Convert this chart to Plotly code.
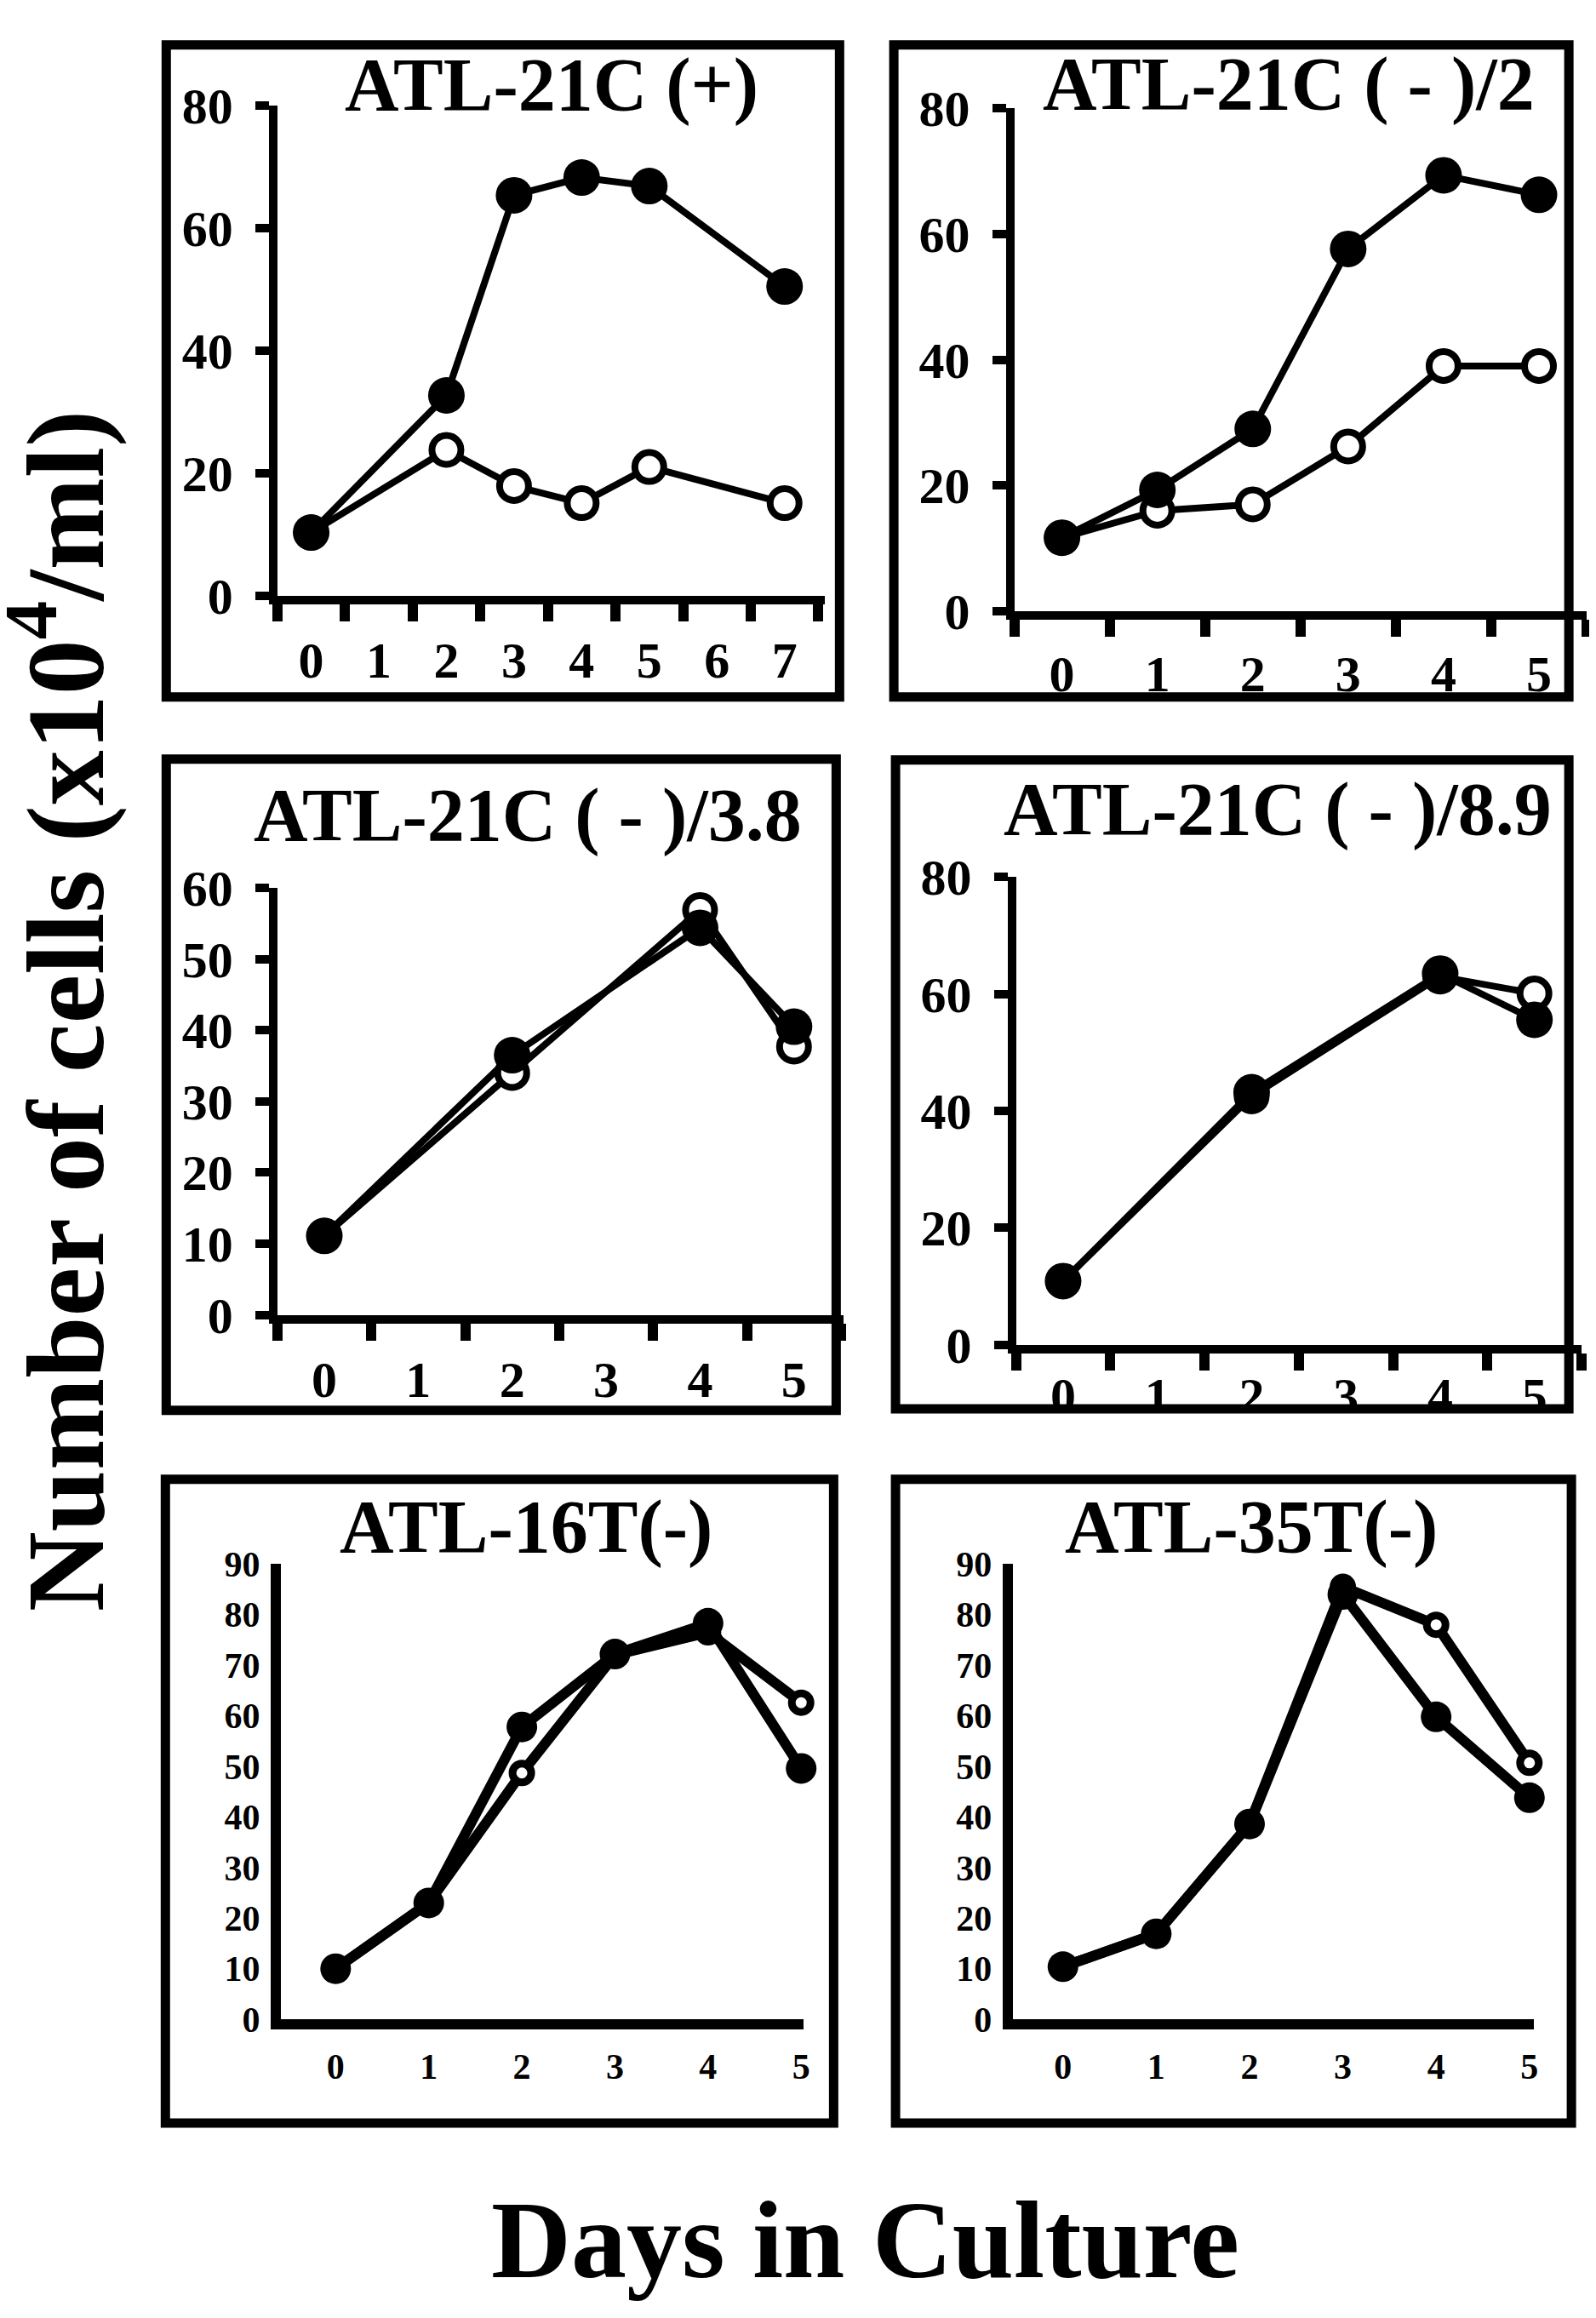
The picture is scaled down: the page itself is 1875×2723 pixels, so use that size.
import plotly.graph_objects as go

W, H = 1875, 2723

# ---------------- data ----------------
titles = ["ATL-21C (+)", "ATL-21C ( - )/2", "ATL-21C ( - )/3.8",
          "ATL-21C ( - )/8.9", "ATL-16T(-)", "ATL-35T(-)"]

days_1 = [0, 2, 3, 4, 5, 7]
filled_1 = [10.3, 32.7, 65.4, 68.3, 66.9, 50.5]
open_1 = [10.3, 23.8, 17.9, 15.1, 21.0, 15.1]
xlabels_1 = [0, 1, 2, 3, 4, 5, 6, 7]

days_2 = [0, 1, 2, 3, 4, 5]
filled_2 = [11.7, 19.3, 29.0, 57.6, 69.3, 66.2]
open_2 = [11.7, 16.0, 17.0, 26.2, 39.0, 39.0]

days_3 = [0, 2, 4, 5]
filled_3 = [11.1, 36.5, 54.4, 40.5]
open_3 = [11.1, 34.0, 56.9, 37.7]

days_4 = [0, 2, 4, 5]
filled_4 = [10.9, 43.2, 63.5, 55.6]
open_4 = [10.9, 42.5, 63.0, 60.1]

days_5 = [0, 1, 2, 3, 4, 5]
filled_5 = [10.0, 23.0, 57.8, 72.2, 78.3, 49.6]
open_5 = [10.0, 23.0, 48.7, 72.0, 76.5, 62.6]

days_6 = [0, 1, 2, 3, 4, 5]
filled_6 = [10.4, 16.9, 38.6, 84.0, 59.8, 43.8]
open_6 = [10.4, 16.9, 38.6, 85.5, 78.0, 50.7]

xlabels_0to5 = [0, 1, 2, 3, 4, 5]
yticks_80 = [0, 20, 40, 60, 80]
yticks_60 = [0, 10, 20, 30, 40, 50, 60]
yticks_90 = [0, 10, 20, 30, 40, 50, 60, 70, 80, 90]

ytitle = "Number of cells (x10<sup>4</sup>/ml)"
xtitle = "Days in Culture"

# ---------------- geometry / style (pixels) ----------------
FONT = "Liberation Serif, Times New Roman, serif"

panels = [
    dict(days=days_1, filled=filled_1, open=open_1, xlabels=xlabels_1, yticks=yticks_80,
         frame=(188, 13, 982, 798), xpx=(319, 965), xr=(-0.5, 7.6), ypx=(676, 86.5), yr=(0, 80),
         title=(642, 61), big=True, xstand=14),
    dict(days=days_2, filled=filled_2, open=open_2, xlabels=xlabels_0to5, yticks=yticks_80,
         frame=(1046, 13, 1842, 798), xpx=(1188, 1863), xr=(-0.5, 5.5), ypx=(695, 89), yr=(0, 80),
         title=(1512, 60), big=True, xstand=12),
    dict(days=days_3, filled=filled_3, open=open_3, xlabels=xlabels_0to5, yticks=yticks_60,
         frame=(188, 873, 978, 1657), xpx=(319, 987), xr=(-0.5, 5.53), ypx=(1542, 1028), yr=(0, 60),
         title=(614, 940), big=True, xstand=14),
    dict(days=days_4, filled=filled_4, open=open_4, xlabels=xlabels_0to5, yticks=yticks_80,
         frame=(1048, 874, 1842, 1655), xpx=(1190, 1857), xr=(-0.5, 5.5), ypx=(1578, 1015), yr=(0, 80),
         title=(1499, 933), big=True, xstand=-2),
    dict(days=days_5, filled=filled_5, open=open_5, xlabels=xlabels_0to5, yticks=yticks_90,
         frame=(187, 1740, 975, 2515), xpx=(323, 940), xr=(-0.59, 5.03), ypx=(2390, 1842), yr=(0, 90),
         title=(612, 1797), big=False, xstand=8),
    dict(days=days_6, filled=filled_6, open=open_6, xlabels=xlabels_0to5, yticks=yticks_90,
         frame=(1048, 1740, 1845, 2515), xpx=(1186, 1801), xr=(-0.54, 5.05), ypx=(2390, 1842), yr=(0, 90),
         title=(1467, 1797), big=False, xstand=8),
]


def px(x):
    return x / W


def py(y):
    return 1 - y / H


fig = go.Figure()
layout = dict(width=W, height=H, margin=dict(l=0, r=0, t=0, b=0),
              paper_bgcolor="white", plot_bgcolor="rgba(0,0,0,0)",
              showlegend=False, font=dict(family=FONT, color="black"))
shapes = []
annotations = []

for i, p in enumerate(panels):
    n = i + 1
    xa = "x" if n == 1 else f"x{n}"
    ya = "y" if n == 1 else f"y{n}"
    big = p["big"]
    lw = 8 if big else 12
    fsize, osize, oline = (43, 34, 8) if big else (36, 22, 9)

    fig.add_trace(go.Scatter(x=p["days"], y=p["open"], xaxis=xa, yaxis=ya, mode="lines+markers",
                             line=dict(color="black", width=lw),
                             marker=dict(symbol="circle", size=osize, color="white",
                                         line=dict(color="black", width=oline)),
                             cliponaxis=False))
    fig.add_trace(go.Scatter(x=p["days"], y=p["filled"], xaxis=xa, yaxis=ya, mode="lines+markers",
                             line=dict(color="black", width=lw),
                             marker=dict(symbol="circle", size=fsize, color="black",
                                         line=dict(width=0)),
                             cliponaxis=False))

    tick_fs = 60 if big else 42
    axlw = 10 if big else 12
    xkey = "xaxis" if n == 1 else f"xaxis{n}"
    ykey = "yaxis" if n == 1 else f"yaxis{n}"
    xaxis = dict(domain=[px(p["xpx"][0]), px(p["xpx"][1])], range=list(p["xr"]), anchor=ya,
                 showgrid=False, zeroline=False, showline=True, linecolor="black", linewidth=axlw,
                 tickmode="array", tickvals=p["xlabels"], ticktext=[str(v) for v in p["xlabels"]],
                 ticks="", ticklabelstandoff=p["xstand"],
                 tickfont=dict(family=FONT, size=tick_fs, color="black", weight="bold"),
                 fixedrange=True)
    if big:
        xaxis["minor"] = dict(tickmode="linear", tick0=-0.5, dtick=1, ticks="outside",
                              ticklen=20, tickwidth=12, tickcolor="black", showgrid=False)
    yaxis = dict(domain=[py(p["ypx"][0]), py(p["ypx"][1])], range=list(p["yr"]), anchor=xa,
                 showgrid=False, zeroline=False, showline=True, linecolor="black", linewidth=axlw,
                 tickmode="array", tickvals=p["yticks"], ticktext=[str(v) for v in p["yticks"]],
                 ticks="outside" if big else "", ticklen=16, tickwidth=10, tickcolor="black",
                 ticklabelstandoff=14 if big else 4,
                 tickfont=dict(family=FONT, size=tick_fs, color="black", weight="bold"),
                 fixedrange=True)
    layout[xkey] = xaxis
    layout[ykey] = yaxis

    # panel title
    annotations.append(dict(text=titles[i], x=px(p["title"][0]), y=py(p["title"][1]),
                            xref="paper", yref="paper", xanchor="center", yanchor="middle",
                            showarrow=False,
                            font=dict(family=FONT, size=88, color="black", weight="bold")))

# white band clipping the tick labels of panel 4 under its frame
shapes.append(dict(type="rect", xref="paper", yref="paper", x0=px(1050), x1=px(1845),
                   y0=py(1730), y1=py(1660), fillcolor="white", line=dict(width=0), layer="above"))

for p in panels:
    x0, y0, x1, y1 = p["frame"]
    shapes.append(dict(type="rect", xref="paper", yref="paper", x0=px(x0), x1=px(x1),
                       y0=py(y1), y1=py(y0), line=dict(color="black", width=11),
                       fillcolor="rgba(0,0,0,0)", layer="above"))

annotations.append(dict(text=ytitle, x=px(60), y=py(1176), xref="paper", yref="paper",
                        xanchor="center", yanchor="middle", textangle=-90, showarrow=False,
                        font=dict(family=FONT, size=130, color="black", weight="bold")))
annotations.append(dict(text=xtitle, x=px(1012), y=py(2655), xref="paper", yref="paper",
                        xanchor="center", yanchor="middle", showarrow=False,
                        font=dict(family=FONT, size=130, color="black", weight="bold")))

layout["shapes"] = shapes
layout["annotations"] = annotations
fig.update_layout(**layout)
fig.write_html("out.html")
